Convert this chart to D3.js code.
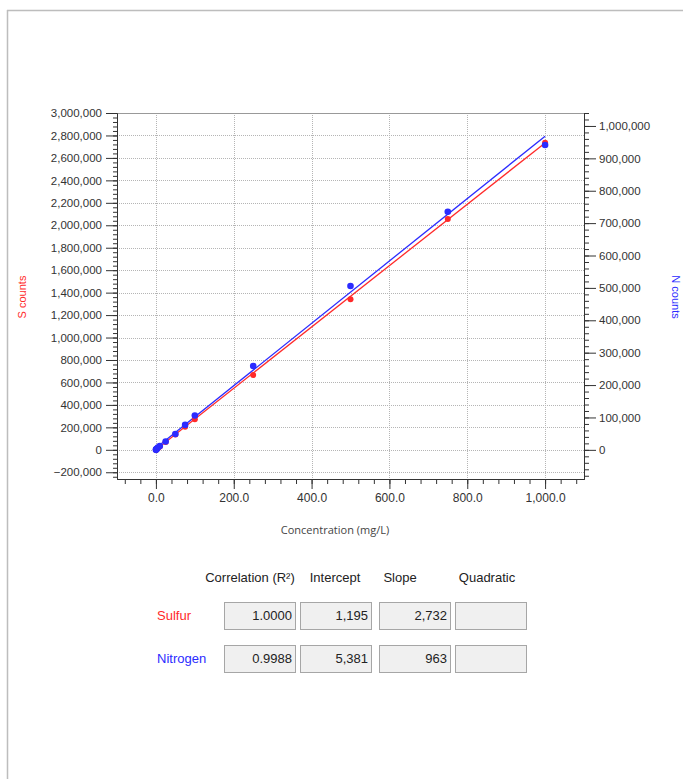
<!DOCTYPE html>
<html>
<head>
<meta charset="utf-8">
<script src="https://cdn.jsdelivr.net/npm/d3@7"></script>
<style>
  body { margin: 0; background: #fff; }
  svg { display: block; }
  text { font-family: "Liberation Sans", Arial, sans-serif; }
</style>
</head>
<body>
<svg id="chart" width="683" height="779"></svg>
<script>
// ---- data ----
const concentrations = [0, 0.5, 1, 2, 5, 10, 25, 50, 75, 100, 250, 500, 750, 1000];
const sulfurCounts   = [0, 1500, 3000, 6500, 14500, 28500, 70000, 137000, 205000, 272000, 666000, 1340000, 2056000, 2735000];
const nitrogenCounts = [0, 800, 1500, 3000, 7000, 12000, 26000, 49000, 77000, 106000, 259000, 506000, 735000, 941000];

const xTicks  = [0, 200, 400, 600, 800, 1000];
const sTicks  = [-200000, 0, 200000, 400000, 600000, 800000, 1000000, 1200000, 1400000, 1600000, 1800000, 2000000, 2200000, 2400000, 2600000, 2800000, 3000000];
const nTicks  = [0, 100000, 200000, 300000, 400000, 500000, 600000, 700000, 800000, 900000, 1000000];

const tableHeaders = ["Correlation (R\u00B2)", "Intercept", "Slope", "Quadratic"];
const seriesNames  = ["Sulfur", "Nitrogen"];
const correlation  = ["1.0000", "0.9988"];
const intercepts   = [1195, 5381];
const slopes       = [2732, 963];
const quadratic    = ["", ""];

// ---- layout ----
const svg = d3.select("#chart");
const L = 117, R = 584, T = 113, B = 479;
const red = "#ff2a2a", blue = "#2b2bff", tickCol = "#333";

const x  = d3.scaleLinear().domain([-100, 1100]).range([L, R]);
const yS = d3.scaleLinear().domain([-260000, 3000000]).range([B, T]);
const yN = d3.scaleLinear().domain([-90000, 1040000]).range([B, T]);

// page frame
svg.append("line").attr("x1", 7).attr("x2", 683).attr("y1", 10.5).attr("y2", 10.5).attr("stroke", "#bdbdbd").attr("stroke-width", 1.5);
svg.append("line").attr("x1", 7.5).attr("x2", 7.5).attr("y1", 10).attr("y2", 779).attr("stroke", "#bdbdbd").attr("stroke-width", 1.5);

// grid
const grid = svg.append("g").attr("stroke", "#b5b5b5").attr("stroke-width", 1).attr("stroke-dasharray", "1,1");
grid.selectAll(".gx").data(xTicks).join("line")
  .attr("x1", d => Math.round(x(d)) + 0.5).attr("x2", d => Math.round(x(d)) + 0.5)
  .attr("y1", T).attr("y2", B);
grid.selectAll(".gy").data(sTicks.filter(d => d < 3000000)).join("line")
  .attr("x1", L).attr("x2", R)
  .attr("y1", d => Math.round(yS(d)) + 0.5).attr("y2", d => Math.round(yS(d)) + 0.5);

// plot border top
svg.append("line").attr("x1", L).attr("x2", R).attr("y1", T + 0.5).attr("y2", T + 0.5).attr("stroke", "#999");

// axes
function styleAxis(g) {
  g.selectAll("path").attr("stroke", "#333");
  g.selectAll("line").attr("stroke", "#333");
  g.selectAll("text").attr("fill", tickCol).style("font-family", "'Liberation Sans', Arial, sans-serif");
}
const fmtInt = d3.format(",");
const fmtX = d => d3.format(",.1f")(d);

// minor ticks
const xMinor = d3.range(-80, 1100, 40);
const sMinor = d3.range(-240000, 3000001, 40000);
const nMinor = d3.range(-80000, 1040001, 20000);

const gxMinor = svg.append("g").attr("transform", `translate(0,${B})`)
  .call(d3.axisBottom(x).tickValues(xMinor).tickSize(5).tickFormat("").tickSizeOuter(0));
const gx = svg.append("g").attr("transform", `translate(0,${B})`)
  .call(d3.axisBottom(x).tickValues(xTicks).tickSize(10).tickFormat(fmtX).tickSizeOuter(0).tickPadding(4));
gx.selectAll("text").style("font-size", "12px");
styleAxis(gxMinor); styleAxis(gx);

const gsMinor = svg.append("g").attr("transform", `translate(${L},0)`)
  .call(d3.axisLeft(yS).tickValues(sMinor).tickSize(4).tickFormat("").tickSizeOuter(0));
const gs = svg.append("g").attr("transform", `translate(${L},0)`)
  .call(d3.axisLeft(yS).tickValues(sTicks).tickSize(11).tickFormat(fmtInt).tickSizeOuter(0).tickPadding(4));
gs.selectAll("text").style("font-size", "11.5px");
styleAxis(gsMinor); styleAxis(gs);

const gnMinor = svg.append("g").attr("transform", `translate(${R},0)`)
  .call(d3.axisRight(yN).tickValues(nMinor).tickSize(5).tickFormat("").tickSizeOuter(0));
const gn = svg.append("g").attr("transform", `translate(${R},0)`)
  .call(d3.axisRight(yN).tickValues(nTicks).tickSize(12).tickFormat(fmtInt).tickSizeOuter(0).tickPadding(3));
gn.selectAll("text").style("font-size", "11.5px");
styleAxis(gnMinor); styleAxis(gn);

// axis titles
svg.append("text").attr("transform", `translate(26,297) rotate(-90)`).attr("text-anchor", "middle")
  .attr("fill", red).style("font-size", "11px").text("S counts");
svg.append("text").attr("transform", `translate(672,297) rotate(90)`).attr("text-anchor", "middle")
  .attr("fill", blue).style("font-size", "11px").text("N counts");
svg.append("text").attr("x", 335).attr("y", 534).attr("text-anchor", "middle")
  .attr("fill", "#444").style("font-family", "'Open Sans', sans-serif").style("font-size", "11px")
  .text("Concentration (mg/L)");

// fit lines
const sLine = d3.line().x(d => x(d)).y(d => yS(intercepts[0] + slopes[0] * d));
const nLine = d3.line().x(d => x(d)).y(d => yN(intercepts[1] + slopes[1] * d));
const lineX = [0, 1000];
svg.append("path").attr("d", sLine(lineX)).attr("stroke", red).attr("stroke-width", 1.3).attr("fill", "none");
svg.append("path").attr("d", nLine(lineX)).attr("stroke", blue).attr("stroke-width", 1.3).attr("fill", "none");

// points
svg.append("g").selectAll("circle").data(concentrations).join("circle")
  .attr("cx", d => x(d)).attr("cy", (d, i) => yS(sulfurCounts[i])).attr("r", 3).attr("fill", red);
svg.append("g").selectAll("circle").data(concentrations).join("circle")
  .attr("cx", d => x(d)).attr("cy", (d, i) => yN(nitrogenCounts[i])).attr("r", 3.3).attr("fill", blue);

// table
const colCenters = [250, 335, 400, 487];
svg.append("g").selectAll("text").data(tableHeaders).join("text")
  .attr("x", (d, i) => colCenters[i]).attr("y", 582).attr("text-anchor", "middle")
  .attr("fill", "#222").style("font-size", "13px").text(d => d);

const boxX = [224, 300, 379, 455];
const boxW = 71;
const rowY = [602, 645];
const boxH = 27;
const rowColors = [red, blue];
seriesNames.forEach((name, r) => {
  svg.append("text").attr("x", 157).attr("y", rowY[r] + 18).attr("fill", rowColors[r])
    .style("font-size", "13px").text(name);
  const vals = [correlation[r], fmtInt(intercepts[r]), fmtInt(slopes[r]), quadratic[r]];
  vals.forEach((v, c) => {
    svg.append("rect").attr("x", boxX[c] + 0.5).attr("y", rowY[r] + 0.5).attr("width", boxW).attr("height", boxH)
      .attr("fill", "#f0f0f0").attr("stroke", "#a6a6a6");
    svg.append("text").attr("x", boxX[c] + boxW - 3).attr("y", rowY[r] + 18).attr("text-anchor", "end")
      .attr("fill", "#222").style("font-size", "13px").text(v);
  });
});
</script>
</body>
</html>
